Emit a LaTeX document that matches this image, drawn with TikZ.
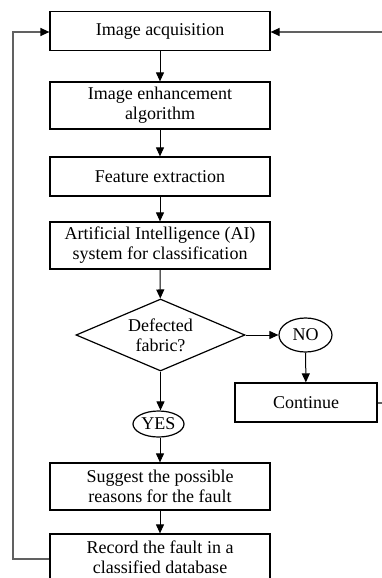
\documentclass[tikz,border=0pt]{standalone}
\usepackage{fontspec}
\setmainfont{Liberation Serif}
\usetikzlibrary{shapes.geometric,arrows.meta}
\begin{document}
\begin{tikzpicture}[x=1pt,y=-1pt,
  every node/.style={font=\fontsize{18}{20}\selectfont},
  box/.style={draw,line width=1.2pt,minimum width=220pt,inner sep=0pt,align=center},
  oval/.style={draw,ellipse,line width=1.2pt,inner sep=0pt},
  arr/.style={line width=1pt,-{Triangle[length=9pt,width=8pt]}},
  back/.style={line width=1.2pt,draw=black!62,-{Triangle[length=9pt,width=8pt,color=black]}}]
\useasboundingbox (0,0) rectangle (382,578);
\clip (0,0) rectangle (382,578);
\node[box,minimum height=39pt] (acq) at (160,31) {Image acquisition};
\node[box,minimum height=47pt] (enh) at (160,105.5) {Image enhancement\\algorithm};
\node[box,minimum height=39pt] (feat) at (160,176.5) {Feature extraction};
\node[box,minimum height=47pt] (ai) at (160,245.5) {Artificial Intelligence (AI)\\system for classification};
\node[draw,diamond,line width=1.2pt,aspect=2.35,minimum width=169pt,minimum height=72pt,inner sep=0pt,align=center] (dia) at (160.5,335) {Defected\\fabric?};
\node[oval,minimum width=53pt,minimum height=34pt] (no) at (305.5,335) {NO};
\node[draw,line width=1.2pt,minimum width=142pt,minimum height=39pt,inner sep=0pt] (cont) at (306,402.5) {Continue};
\node[oval,minimum width=51pt,minimum height=26pt] (yes) at (158.5,424) {YES};
\node[box,minimum height=47pt] (sug) at (160,486.5) {Suggest the possible\\reasons for the fault};
\node[box,minimum height=47pt] (rec) at (160,557.5) {Record the fault in a\\classified database};
\coordinate (bl) at (13,559);
\coordinate (tl) at (13,32);
\coordinate (br) at (395,403);
\coordinate (tr) at (395,32);
\draw[arr] (acq) -- (enh);
\draw[arr] (enh) -- (feat);
\draw[arr] (feat) -- (ai);
\draw[arr] (ai) -- (dia);
\draw[arr] (dia) -- (no);
\draw[arr] (dia.south) -- (yes.north -| dia.south);
\draw[arr] (no) -- (cont);
\draw[arr] (yes.south -| sug.north) -- (sug);
\draw[arr] (sug) -- (rec);
\draw[back] (rec.west |- bl) -- (bl) -- (tl) -- (acq.west |- tl);
\draw[back] (cont.east |- br) -- (br) -- (tr) -- (acq.east |- tr);
\end{tikzpicture}
\end{document}
